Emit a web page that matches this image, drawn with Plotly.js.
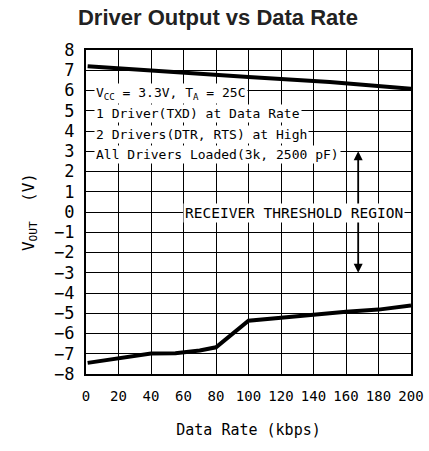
<!DOCTYPE html>
<html>
<head>
<meta charset="utf-8">
<script src="https://cdn.plot.ly/plotly-3.0.1.min.js"></script>
<style>html,body{margin:0;padding:0;background:#fff;}#chart{width:429px;height:451px;}</style>
</head>
<body>
<div id="chart"></div>
<script>
// Data rate (kbps)
const rateHigh = [1, 50, 100, 150, 200];
const voutHigh = [7.2, 6.96, 6.67, 6.42, 6.08];
const rateLow = [1, 20, 40, 55, 70, 80, 90, 100, 120, 140, 160, 180, 200];
const voutLow = [-7.45, -7.22, -6.99, -6.97, -6.84, -6.68, -6.02, -5.37, -5.22, -5.06, -4.93, -4.82, -4.62];

const xTicks = [0, 20, 40, 60, 80, 100, 120, 140, 160, 180, 200];
const yTicks = [-8, -7, -6, -5, -4, -3, -2, -1, 0, 1, 2, 3, 4, 5, 6, 7, 8];

const noteLines = [
  'V<sub>CC</sub> = 3.3V, T<sub>A</sub> = 25C',
  '1 Driver(TXD) at Data Rate',
  '2 Drivers(DTR, RTS) at High',
  'All Drivers Loaded(3k, 2500 pF)'
];
const noteY = [5.85, 4.85, 3.85, 2.85];
const noteX = 5;

const regionLabel = 'RECEIVER THRESHOLD REGION';
const regionX = 128.3;
const regionY = -0.05;
const arrowX = 167.5;
const arrowTips = [3, -3];

const mono = 'DejaVu Sans Mono';

const traces = [
  {x: rateHigh, y: voutHigh, mode: 'lines', line: {color: '#000', width: 4}, hoverinfo: 'skip'},
  {x: rateLow, y: voutLow, mode: 'lines', line: {color: '#000', width: 4}, hoverinfo: 'skip'}
];

const annotations = [];
arrowTips.forEach(t => {
  annotations.push({
    x: arrowX, y: t, ax: arrowX, ay: 0, xref: 'x', yref: 'y', axref: 'x', ayref: 'y',
    text: '', showarrow: true, arrowhead: 2, arrowsize: 1, arrowwidth: 1.8, arrowcolor: '#000'
  });
});
noteLines.forEach((t, i) => {
  annotations.push({
    x: noteX, y: noteY[i], xref: 'x', yref: 'y', xanchor: 'left', yanchor: 'middle',
    text: t, showarrow: false, bgcolor: '#fff', borderpad: 1,
    font: {family: mono, size: 13, color: '#000'}
  });
});
annotations.push({
  x: regionX, y: regionY, xref: 'x', yref: 'y', xanchor: 'center', yanchor: 'middle',
  text: regionLabel, showarrow: false, bgcolor: '#fff', borderpad: 1,
  font: {family: mono, size: 14.5, color: '#000'}
});

const layout = {
  width: 429, height: 451,
  margin: {l: 86, r: 18, t: 50, b: 77},
  paper_bgcolor: '#fff', plot_bgcolor: '#fff',
  showlegend: false,
  title: {
    text: 'Driver Output vs Data Rate',
    font: {family: 'Liberation Sans, Arial, sans-serif', size: 22, color: '#222', weight: 'bold'},
    x: 0.508, xanchor: 'center', y: 0.962, yanchor: 'middle'
  },
  xaxis: {
    range: [0, 200], tickvals: xTicks, ticktext: xTicks.map(String),
    showgrid: true, gridcolor: '#000', gridwidth: 1, zeroline: false,
    showline: true, mirror: true, linecolor: '#000', linewidth: 2,
    ticks: '', ticklabelstandoff: 8,
    tickfont: {family: mono, size: 14, color: '#000'},
    title: {text: 'Data Rate (kbps)', font: {family: mono, size: 15, color: '#000'}, standoff: 22}
  },
  yaxis: {
    range: [-8, 8], tickvals: yTicks,
    showgrid: true, gridcolor: '#000', gridwidth: 1, zeroline: false,
    showline: true, mirror: true, linecolor: '#000', linewidth: 2,
    ticks: '', ticklabelstandoff: 6,
    tickfont: {family: mono, size: 17, color: '#000'},
    title: {text: 'V<sub>OUT</sub>  (V)', font: {family: mono, size: 16, color: '#000'}, standoff: 16}
  },
  annotations: annotations
};

Plotly.newPlot('chart', traces, layout, {staticPlot: true, displayModeBar: false});
</script>
</body>
</html>
